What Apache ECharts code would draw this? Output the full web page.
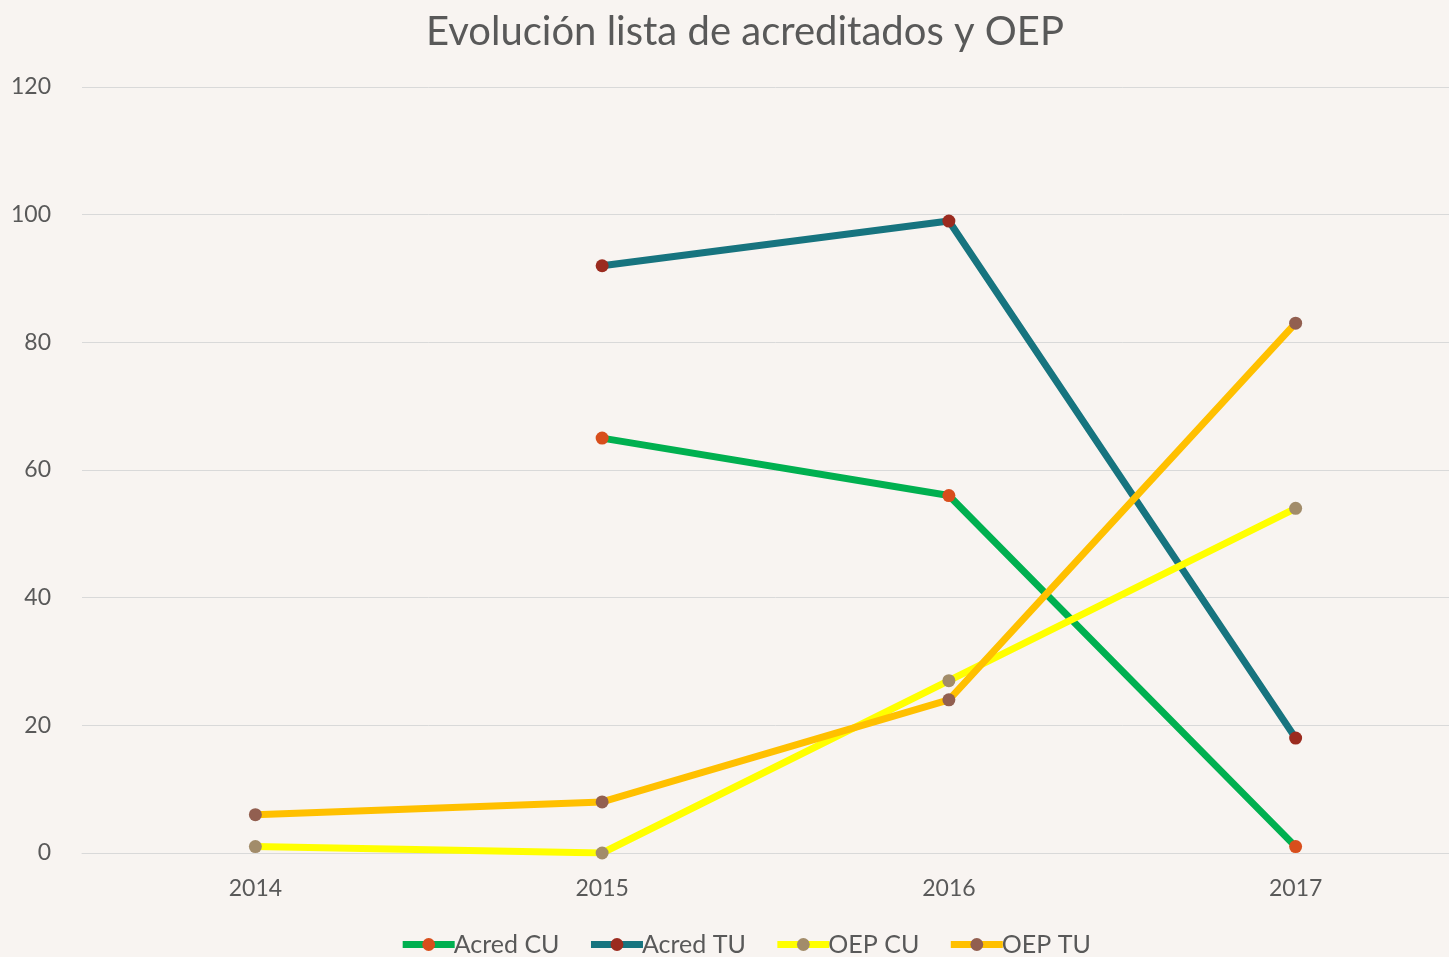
<!DOCTYPE html>
<html lang="es">

<head>
    <meta charset="UTF-8">
    <title>Evolución lista de acreditados y OEP</title>
    <script src="https://cdn.jsdelivr.net/npm/echarts@6/dist/echarts.min.js"></script>
    <style>
        body {
            margin: 0;
            padding: 0;
            background: #f8f4f1;
            overflow: hidden;
        }
    </style>
</head>

<body>
    <!-- plot area runs past the right edge in the original, so the canvas is wider than the window -->
    <div id="chart" style="width: 1490px;height: 957px;"></div>
    <script>
        var years = ["2014", "2015", "2016", "2017"];
        var acredCU = [null, 65, 56, 1];
        var acredTU = [null, 92, 99, 18];
        var oepCU = [1, 0, 27, 54];
        var oepTU = [6, 8, 24, 83];

        var chart = echarts.init(document.getElementById("chart"));

        function makeSeries(name, data, lineColor, dotColor) {
            return {
                name: name,
                type: "line",
                data: data,
                symbol: "circle",
                symbolSize: 13,
                showAllSymbol: true,
                connectNulls: false,
                lineStyle: { color: lineColor, width: 7 },
                itemStyle: { color: dotColor },
                emphasis: { disabled: true }
            };
        }

        var option = {
            backgroundColor: "#f8f4f1",
            animation: false,
            title: {
                text: "Evolución lista de acreditados y OEP",
                left: "center",
                top: 7,
                textStyle: {
                    fontFamily: "Lato",
                    fontSize: 40,
                    fontWeight: "normal",
                    color: "#595959"
                }
            },
            legend: {
                bottom: -5,
                left: "center",
                itemWidth: 52,
                itemHeight: 16,
                itemGap: 28,
                lineStyle: { width: 7 },
                textStyle: {
                    fontFamily: "Lato",
                    fontSize: 25,
                    color: "#595959",
                    padding: [0, 0, 0, -6]
                },
                data: ["Acred CU", "Acred TU", "OEP CU", "OEP TU"]
            },
            grid: {
                left: 82,
                top: 87,
                bottom: 104,
                width: 1387,
                containLabel: false
            },
            xAxis: {
                type: "category",
                data: years,
                boundaryGap: true,
                axisLine: { lineStyle: { color: "#d9d9d9", width: 1 } },
                axisTick: { show: false },
                axisLabel: {
                    fontFamily: "Lato",
                    fontSize: 23,
                    color: "#595959",
                    margin: 24
                }
            },
            yAxis: {
                type: "value",
                min: 0,
                max: 120,
                interval: 20,
                axisLine: { show: false },
                axisTick: { show: false },
                splitLine: { lineStyle: { color: "#d9d9d9", width: 1 } },
                axisLabel: {
                    fontFamily: "Lato",
                    fontSize: 23,
                    color: "#595959",
                    margin: 31
                }
            },
            series: [
                makeSeries("Acred CU", acredCU, "#00b050", "#d84e1c"),
                makeSeries("Acred TU", acredTU, "#17747f", "#9b2b1f"),
                makeSeries("OEP CU", oepCU, "#ffff00", "#a28c6a"),
                makeSeries("OEP TU", oepTU, "#ffc000", "#925f50")
            ]
        };
        chart.setOption(option);
    </script>
</body>

</html>
